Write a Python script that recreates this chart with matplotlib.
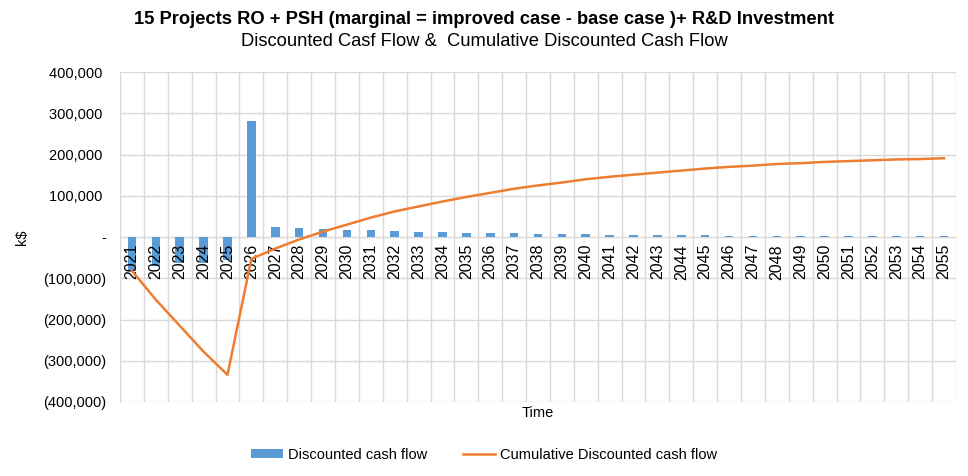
import matplotlib
matplotlib.use("Agg")
import matplotlib.pyplot as plt
from matplotlib.ticker import FuncFormatter
from matplotlib.lines import Line2D
from matplotlib.patches import Patch

plt.rcParams['font.family'] = ['Liberation Sans', 'DejaVu Sans']

years = [str(y) for y in range(2021, 2056)]
discounted_cf = [-82000, -70000, -63000, -63000, -56000, 281000, 25000, 22000, 19000, 17000,
                 17000, 15000, 12000, 12000, 10000, 10000, 10000, 8000, 8000, 8000,
                 6000, 6000, 6000, 6000, 6000, 3000, 3000, 3000, 3000, 3000,
                 3000, 3000, 3000, 3000, 3000]
cumulative_cf = [-82000, -152000, -215000, -278000, -334000, -53000, -28000, -6000, 13000, 30000,
                 47000, 62000, 74000, 86000, 97000, 107000, 117000, 125000, 132000, 140000,
                 146000, 151000, 156000, 161000, 166000, 170000, 173000, 177000, 179000, 182000,
                 184000, 186000, 188000, 189000, 191000]

blue = '#5B9BD5'
orange = '#ED7D31'
grid = '#D9D9D9'

fig = plt.figure(figsize=(9.68, 4.76), dpi=100)
ax = fig.add_axes([120/968, 1-402/476, (956-120)/968, (402-72)/476])

x = list(range(len(years)))
yticks = list(range(-400000, 400001, 100000))

# gridlines drawn beneath everything
for yv in yticks:
    ax.axhline(yv, color=grid, linewidth=1, zorder=0)
for i in range(len(years) + 1):
    ax.axvline(i - 0.5, color=grid, linewidth=1, zorder=0)

ax.bar(x, discounted_cf, width=0.36, color=blue, zorder=1)
ax.plot(x, cumulative_cf, color=orange, linewidth=1.8, zorder=4)

ax.set_xlim(-0.5, len(years)-0.5)
ax.set_ylim(-400000, 400000)
ax.set_yticks(yticks)

def acct(v, pos):
    if abs(v) < 0.5:
        return '-'
    if v < 0:
        return '({:,.0f})'.format(-v)
    return '{:,.0f} '.format(v)
ax.yaxis.set_major_formatter(FuncFormatter(acct))

ax.set_xticks(x)
ax.set_xticklabels(years)
ax.tick_params(axis='x', which='both', length=0, pad=5)
ax.tick_params(axis='x', which='major', labelrotation=90, labelsize=11.5, labelcolor='#000000')
ax.tick_params(axis='y', which='both', length=0, pad=10, labelsize=10.5, labelcolor='#000000')
for lbl in ax.get_xticklabels():
    lbl.set_va('top')
    lbl.set_ha('center')

ax.set_axisbelow(False)
ax.xaxis.set_zorder(3)

ax.spines['bottom'].set_position(('data', 0))
ax.spines['bottom'].set_color(grid)
ax.spines['bottom'].set_zorder(0.5)
ax.spines['left'].set_color(grid)
ax.spines['top'].set_visible(False)
ax.spines['right'].set_visible(False)

fig.text(22/968, 1-237/476, 'k$', rotation=90, ha='center', va='center', fontsize=10.5)
fig.text(538/968, 1-413/476, 'Time', ha='center', va='center', fontsize=10.5)

fig.text(484/968, 1-20/476, '15 Projects RO + PSH (marginal = improved case - base case )+ R&D Investment',
         ha='center', va='center', fontsize=13.2, fontweight='bold')
fig.text(484/968, 1-42/476, 'Discounted Casf Flow &  Cumulative Discounted Cash Flow',
         ha='center', va='center', fontsize=13.2)

handles = [Patch(facecolor=blue, edgecolor='none'),
           Line2D([0], [0], color=orange, linewidth=1.8)]
fig.legend(handles, ['Discounted cash flow', 'Cumulative Discounted cash flow'],
           loc='center', bbox_to_anchor=(484/968, 1-455/476), ncol=2, frameon=False,
           fontsize=10.5, handlelength=2.2, handleheight=0.6, columnspacing=2.5, handletextpad=0.3)

fig.savefig('out.png', dpi=100)
